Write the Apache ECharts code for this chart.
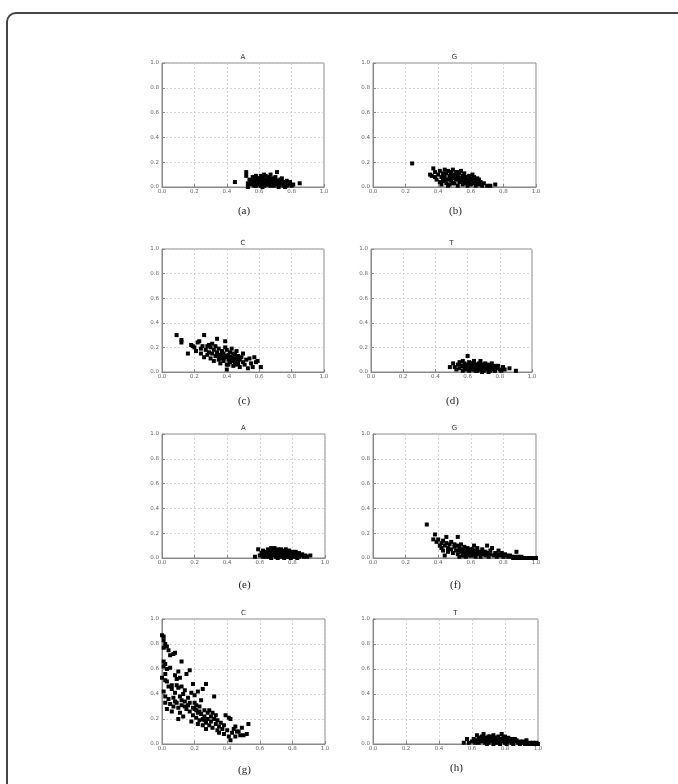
<!DOCTYPE html>
<html>
<head>
<meta charset="utf-8">
<script src="https://cdn.jsdelivr.net/npm/echarts@6/dist/echarts.min.js"></script>
<style>
  html, body { margin: 0; padding: 0; background: #fff; }
  .frame {
    position: absolute; left: 6px; top: 12px; width: 690px; height: 800px;
    border: 2px solid #444; border-radius: 10px; box-sizing: border-box;
  }
  #chart { position: absolute; left: 0; top: 0; width: 678px; height: 784px; }
</style>
</head>
<body>
<div class="frame"></div>
<div id="chart"></div>
<script>
// tick labels shared by all panels
const ticks = [0.0, 0.2, 0.4, 0.6, 0.8, 1.0]
const titles = ['A', 'G', 'C', 'T', 'A', 'G', 'C', 'T']
const captions = ['(a)', '(b)', '(c)', '(d)', '(e)', '(f)', '(g)', '(h)']

// points: [x, y]
const pointsA1 = [[0.45,0.04],[0.52,0.12],[0.52,0.09],[0.53,0.03],[0.54,0.06],[0.55,0.02],[0.55,0.05],[0.56,0.08],[0.57,0.01],[0.57,0.04],[0.58,0.06],[0.58,0.09],[0.59,0.02],[0.59,0.05],[0.60,0.03],[0.60,0.07],[0.61,0.01],[0.61,0.05],[0.62,0.08],[0.62,0.03],[0.63,0.06],[0.63,0.01],[0.64,0.04],[0.64,0.09],[0.65,0.02],[0.65,0.06],[0.66,0.04],[0.66,0.08],[0.67,0.01],[0.67,0.05],[0.68,0.03],[0.68,0.07],[0.69,0.05],[0.69,0.01],[0.70,0.03],[0.70,0.06],[0.71,0.12],[0.71,0.02],[0.72,0.05],[0.72,0.01],[0.73,0.03],[0.73,0.06],[0.74,0.02],[0.75,0.04],[0.75,0.01],[0.76,0.03],[0.77,0.05],[0.77,0.01],[0.78,0.02],[0.79,0.04],[0.80,0.01],[0.81,0.02],[0.85,0.03],[0.56,0.03],[0.58,0.01],[0.60,0.05],[0.62,0.05],[0.64,0.02],[0.66,0.02],[0.68,0.05],[0.70,0.08],[0.61,0.09],[0.63,0.10],[0.67,0.10],[0.74,0.07],[0.59,0.07],[0.65,0.04],[0.69,0.03],[0.71,0.04],[0.57,0.07],[0.53,0.00],[0.62,0.00],[0.72,0.00],[0.76,0.00]]

const pointsG1 = [[0.24,0.19],[0.37,0.15],[0.35,0.10],[0.36,0.09],[0.38,0.12],[0.38,0.08],[0.39,0.06],[0.40,0.10],[0.41,0.13],[0.41,0.04],[0.42,0.08],[0.42,0.02],[0.43,0.11],[0.43,0.05],[0.44,0.14],[0.44,0.08],[0.45,0.03],[0.45,0.11],[0.46,0.06],[0.46,0.13],[0.47,0.09],[0.47,0.02],[0.48,0.12],[0.48,0.05],[0.49,0.08],[0.49,0.14],[0.50,0.03],[0.50,0.10],[0.51,0.06],[0.51,0.12],[0.52,0.09],[0.52,0.01],[0.53,0.04],[0.53,0.11],[0.54,0.07],[0.54,0.13],[0.55,0.02],[0.55,0.09],[0.56,0.05],[0.56,0.11],[0.57,0.03],[0.57,0.08],[0.58,0.06],[0.58,0.01],[0.59,0.09],[0.59,0.04],[0.60,0.02],[0.60,0.07],[0.61,0.05],[0.62,0.03],[0.62,0.08],[0.63,0.01],[0.63,0.05],[0.64,0.03],[0.65,0.06],[0.65,0.02],[0.66,0.04],[0.67,0.01],[0.68,0.03],[0.70,0.01],[0.72,0.01],[0.75,0.02],[0.47,0.07],[0.50,0.07],[0.53,0.07],[0.56,0.08],[0.44,0.05],[0.48,0.10],[0.52,0.12],[0.55,0.05],[0.46,0.01],[0.58,0.03],[0.61,0.10],[0.49,0.03],[0.64,0.07]]

const pointsC1 = [[0.09,0.30],[0.12,0.26],[0.12,0.24],[0.16,0.15],[0.18,0.22],[0.19,0.21],[0.20,0.20],[0.21,0.17],[0.22,0.24],[0.23,0.25],[0.24,0.19],[0.24,0.15],[0.25,0.21],[0.26,0.30],[0.26,0.12],[0.27,0.18],[0.28,0.21],[0.28,0.14],[0.29,0.16],[0.30,0.20],[0.30,0.11],[0.31,0.23],[0.31,0.15],[0.32,0.18],[0.32,0.09],[0.33,0.13],[0.33,0.21],[0.34,0.27],[0.34,0.16],[0.35,0.10],[0.35,0.19],[0.36,0.14],[0.36,0.07],[0.37,0.17],[0.37,0.12],[0.38,0.09],[0.38,0.15],[0.39,0.25],[0.39,0.12],[0.40,0.18],[0.40,0.06],[0.40,0.02],[0.41,0.14],[0.41,0.10],[0.42,0.16],[0.42,0.08],[0.43,0.12],[0.43,0.19],[0.44,0.10],[0.44,0.05],[0.45,0.14],[0.45,0.08],[0.46,0.11],[0.46,0.17],[0.47,0.07],[0.47,0.13],[0.48,0.10],[0.48,0.04],[0.49,0.12],[0.50,0.08],[0.50,0.15],[0.51,0.06],[0.52,0.10],[0.53,0.03],[0.54,0.11],[0.55,0.07],[0.56,0.04],[0.57,0.12],[0.58,0.08],[0.59,0.09],[0.61,0.04],[0.39,0.20],[0.42,0.12],[0.44,0.15],[0.41,0.06],[0.43,0.09],[0.45,0.11],[0.38,0.11],[0.40,0.13],[0.46,0.06],[0.47,0.10],[0.36,0.11],[0.34,0.13],[0.29,0.22]]

const pointsT1 = [[0.49,0.04],[0.51,0.07],[0.52,0.04],[0.53,0.02],[0.54,0.06],[0.55,0.03],[0.55,0.08],[0.56,0.05],[0.57,0.01],[0.57,0.09],[0.58,0.04],[0.58,0.07],[0.59,0.02],[0.59,0.06],[0.60,0.13],[0.60,0.04],[0.61,0.08],[0.61,0.01],[0.62,0.05],[0.62,0.03],[0.63,0.07],[0.63,0.02],[0.64,0.05],[0.64,0.09],[0.65,0.03],[0.65,0.06],[0.66,0.01],[0.66,0.04],[0.67,0.07],[0.67,0.02],[0.68,0.05],[0.68,0.09],[0.69,0.03],[0.69,0.06],[0.70,0.01],[0.70,0.04],[0.71,0.07],[0.71,0.02],[0.72,0.05],[0.73,0.03],[0.73,0.06],[0.74,0.01],[0.75,0.04],[0.75,0.07],[0.76,0.02],[0.77,0.05],[0.77,0.01],[0.78,0.03],[0.79,0.05],[0.80,0.02],[0.81,0.01],[0.82,0.04],[0.83,0.02],[0.86,0.03],[0.90,0.01],[0.60,0.06],[0.62,0.07],[0.64,0.02],[0.66,0.06],[0.68,0.02],[0.70,0.06],[0.72,0.03],[0.74,0.04],[0.63,0.04],[0.67,0.04],[0.71,0.05],[0.61,0.03],[0.65,0.01],[0.69,0.00],[0.73,0.00],[0.57,0.05]]

const pointsA2 = [[0.57,0.01],[0.59,0.07],[0.60,0.02],[0.61,0.04],[0.62,0.01],[0.62,0.06],[0.63,0.03],[0.64,0.05],[0.64,0.01],[0.65,0.07],[0.65,0.03],[0.66,0.05],[0.66,0.01],[0.67,0.08],[0.67,0.03],[0.68,0.06],[0.68,0.02],[0.69,0.04],[0.69,0.08],[0.70,0.01],[0.70,0.05],[0.71,0.03],[0.71,0.07],[0.72,0.02],[0.72,0.05],[0.73,0.07],[0.73,0.01],[0.74,0.04],[0.74,0.06],[0.75,0.02],[0.75,0.05],[0.76,0.03],[0.76,0.07],[0.77,0.01],[0.77,0.05],[0.78,0.03],[0.78,0.06],[0.79,0.02],[0.79,0.04],[0.80,0.05],[0.80,0.01],[0.81,0.03],[0.82,0.05],[0.82,0.01],[0.83,0.03],[0.84,0.04],[0.84,0.01],[0.85,0.02],[0.86,0.03],[0.87,0.01],[0.88,0.02],[0.89,0.01],[0.91,0.02],[0.68,0.04],[0.70,0.03],[0.72,0.04],[0.74,0.02],[0.76,0.05],[0.78,0.01],[0.80,0.03],[0.66,0.03],[0.64,0.03],[0.73,0.04],[0.75,0.00],[0.79,0.00],[0.83,0.00],[0.71,0.00],[0.67,0.00]]

const pointsG2 = [[0.33,0.27],[0.37,0.15],[0.38,0.19],[0.39,0.13],[0.40,0.15],[0.41,0.10],[0.42,0.12],[0.42,0.08],[0.43,0.14],[0.43,0.06],[0.44,0.10],[0.44,0.02],[0.45,0.17],[0.45,0.12],[0.46,0.08],[0.46,0.05],[0.47,0.11],[0.48,0.07],[0.48,0.13],[0.49,0.04],[0.50,0.09],[0.50,0.11],[0.51,0.06],[0.52,0.17],[0.52,0.10],[0.52,0.03],[0.53,0.08],[0.53,0.01],[0.54,0.05],[0.54,0.11],[0.55,0.07],[0.55,0.02],[0.56,0.09],[0.56,0.04],[0.57,0.06],[0.57,0.01],[0.58,0.08],[0.58,0.03],[0.59,0.05],[0.60,0.07],[0.60,0.02],[0.61,0.04],[0.62,0.10],[0.62,0.06],[0.63,0.01],[0.63,0.04],[0.64,0.08],[0.65,0.03],[0.65,0.05],[0.66,0.01],[0.67,0.07],[0.67,0.03],[0.68,0.05],[0.69,0.02],[0.70,0.10],[0.70,0.04],[0.71,0.01],[0.72,0.06],[0.72,0.03],[0.73,0.08],[0.74,0.02],[0.75,0.04],[0.76,0.01],[0.77,0.06],[0.77,0.03],[0.78,0.02],[0.79,0.04],[0.80,0.01],[0.81,0.03],[0.82,0.02],[0.83,0.01],[0.84,0.02],[0.85,0.01],[0.88,0.05],[0.86,0.00],[0.88,0.00],[0.90,0.00],[0.92,0.00],[0.94,0.00],[0.96,0.00],[0.98,0.00],[1.00,0.00],[0.87,0.01],[0.89,0.01],[0.91,0.01],[0.55,0.05],[0.58,0.06],[0.61,0.07],[0.64,0.05],[0.53,0.06],[0.56,0.02],[0.59,0.02],[0.62,0.02],[0.66,0.04],[0.69,0.05]]

const pointsC2 = [[0.00,0.87],[0.01,0.86],[0.01,0.83],[0.02,0.80],[0.03,0.78],[0.04,0.75],[0.07,0.72],[0.08,0.73],[0.05,0.71],[0.01,0.77],[0.12,0.66],[0.01,0.66],[0.02,0.64],[0.01,0.62],[0.03,0.60],[0.05,0.61],[0.10,0.58],[0.17,0.59],[0.15,0.56],[0.02,0.56],[0.08,0.55],[0.09,0.52],[0.11,0.53],[0.02,0.51],[0.03,0.50],[0.19,0.48],[0.27,0.48],[0.25,0.44],[0.06,0.47],[0.00,0.53],[0.04,0.46],[0.06,0.44],[0.09,0.47],[0.10,0.45],[0.12,0.46],[0.14,0.43],[0.13,0.40],[0.01,0.42],[0.02,0.38],[0.04,0.36],[0.07,0.37],[0.08,0.41],[0.11,0.38],[0.16,0.37],[0.18,0.41],[0.20,0.39],[0.22,0.42],[0.24,0.35],[0.02,0.33],[0.05,0.32],[0.07,0.30],[0.03,0.28],[0.06,0.26],[0.09,0.33],[0.10,0.29],[0.11,0.25],[0.12,0.31],[0.13,0.22],[0.10,0.20],[0.14,0.34],[0.15,0.28],[0.16,0.31],[0.17,0.26],[0.18,0.18],[0.19,0.29],[0.19,0.23],[0.20,0.33],[0.21,0.27],[0.21,0.21],[0.22,0.25],[0.22,0.16],[0.23,0.30],[0.23,0.19],[0.24,0.24],[0.25,0.20],[0.25,0.15],[0.26,0.27],[0.26,0.22],[0.27,0.17],[0.27,0.12],[0.28,0.25],[0.28,0.20],[0.29,0.15],[0.29,0.27],[0.30,0.22],[0.30,0.18],[0.31,0.13],[0.31,0.25],[0.32,0.38],[0.32,0.20],[0.33,0.16],[0.33,0.23],[0.34,0.11],[0.34,0.19],[0.35,0.14],[0.35,0.09],[0.36,0.17],[0.37,0.12],[0.38,0.15],[0.38,0.08],[0.39,0.23],[0.40,0.11],[0.41,0.21],[0.41,0.06],[0.42,0.20],[0.42,0.03],[0.43,0.09],[0.44,0.12],[0.45,0.06],[0.45,0.14],[0.46,0.10],[0.47,0.10],[0.48,0.07],[0.49,0.13],[0.50,0.07],[0.52,0.08],[0.53,0.16],[0.20,0.28],[0.23,0.26],[0.26,0.19],[0.21,0.31],[0.14,0.30],[0.17,0.33],[0.12,0.35],[0.08,0.34]]

const pointsT2 = [[0.55,0.01],[0.57,0.04],[0.58,0.01],[0.60,0.02],[0.61,0.04],[0.62,0.01],[0.63,0.07],[0.63,0.03],[0.64,0.05],[0.64,0.01],[0.65,0.03],[0.66,0.06],[0.66,0.02],[0.67,0.08],[0.67,0.04],[0.68,0.01],[0.68,0.05],[0.69,0.03],[0.70,0.06],[0.70,0.01],[0.71,0.04],[0.72,0.02],[0.72,0.05],[0.73,0.07],[0.73,0.03],[0.74,0.01],[0.74,0.05],[0.75,0.03],[0.76,0.06],[0.76,0.01],[0.77,0.04],[0.78,0.08],[0.78,0.02],[0.79,0.05],[0.79,0.03],[0.80,0.01],[0.80,0.06],[0.81,0.04],[0.82,0.02],[0.82,0.05],[0.83,0.03],[0.84,0.04],[0.84,0.01],[0.85,0.03],[0.86,0.02],[0.87,0.03],[0.88,0.01],[0.89,0.02],[0.90,0.01],[0.91,0.02],[0.93,0.03],[0.92,0.00],[0.94,0.00],[0.96,0.00],[0.98,0.00],[1.00,0.00],[0.95,0.01],[0.97,0.01],[0.99,0.01],[0.69,0.00],[0.73,0.00],[0.77,0.00],[0.81,0.00],[0.85,0.00],[0.89,0.00],[0.66,0.04],[0.70,0.03],[0.74,0.03],[0.78,0.04],[0.82,0.03],[0.86,0.04],[0.75,0.05],[0.71,0.06],[0.65,0.05]]

const panelData = [pointsA1, pointsG1, pointsC1, pointsT1, pointsA2, pointsG2, pointsC2, pointsT2]

// plot boxes in page pixels: left, top, width, height
const boxes = [
  [162, 63, 162, 124], [373, 63, 163, 124],
  [162, 249, 162, 123], [371, 249, 161, 123],
  [162, 434, 163, 124], [373, 434, 163, 124],
  [162, 619, 163, 125], [373, 619, 165, 125]
]
const captionY = [211, 211, 401, 401, 585, 585, 770, 768]

const chart = echarts.init(document.getElementById('chart'))

const grid = [], xAxis = [], yAxis = [], series = [], graphic = []

const tickLabel = {
  color: '#666', fontSize: 5.5, fontFamily: 'DejaVu Sans',
  formatter: v => ticks.includes(v) ? v.toFixed(1) : ''
}

boxes.forEach((b, i) => {
  grid.push({
    left: b[0], top: b[1], width: b[2], height: b[3],
    show: true, borderColor: '#888', borderWidth: 1, backgroundColor: '#fff'
  })
  xAxis.push({
    type: 'value', gridIndex: i, min: 0, max: 1, interval: 0.2,
    axisLine: { show: true, lineStyle: { color: '#888' } },
    axisTick: { show: true, inside: true, length: 3, lineStyle: { color: '#888' } },
    axisLabel: { ...tickLabel, margin: 2 },
    splitLine: { show: true, lineStyle: { color: '#ccc', type: [2, 2], width: 0.8 } }
  })
  yAxis.push({
    type: 'value', gridIndex: i, min: 0, max: 1, interval: 0.2,
    axisLine: { show: true, lineStyle: { color: '#888' } },
    axisTick: { show: true, inside: true, length: 3, lineStyle: { color: '#888' } },
    axisLabel: { ...tickLabel, margin: 3 },
    splitLine: { show: true, lineStyle: { color: '#ccc', type: [2, 2], width: 0.8 } }
  })
  series.push({
    type: 'scatter', xAxisIndex: i, yAxisIndex: i,
    data: panelData[i], symbol: 'rect', symbolSize: 4,
    itemStyle: { color: '#000', opacity: 1 }, silent: true
  })
  // panel title above the box
  graphic.push({
    type: 'text', x: b[0] + b[2] / 2, y: b[1] - 6,
    style: { text: titles[i], fill: '#333', font: '7px DejaVu Sans', align: 'center', verticalAlign: 'middle' }
  })
  // caption under the panel
  graphic.push({
    type: 'text', x: b[0] + b[2] / 2 + 1, y: captionY[i],
    style: { text: captions[i], fill: '#222', font: '11px Liberation Serif', align: 'center', verticalAlign: 'middle' }
  })
})

chart.setOption({
  animation: false,
  grid, xAxis, yAxis, series, graphic
})
</script>
</body>
</html>
